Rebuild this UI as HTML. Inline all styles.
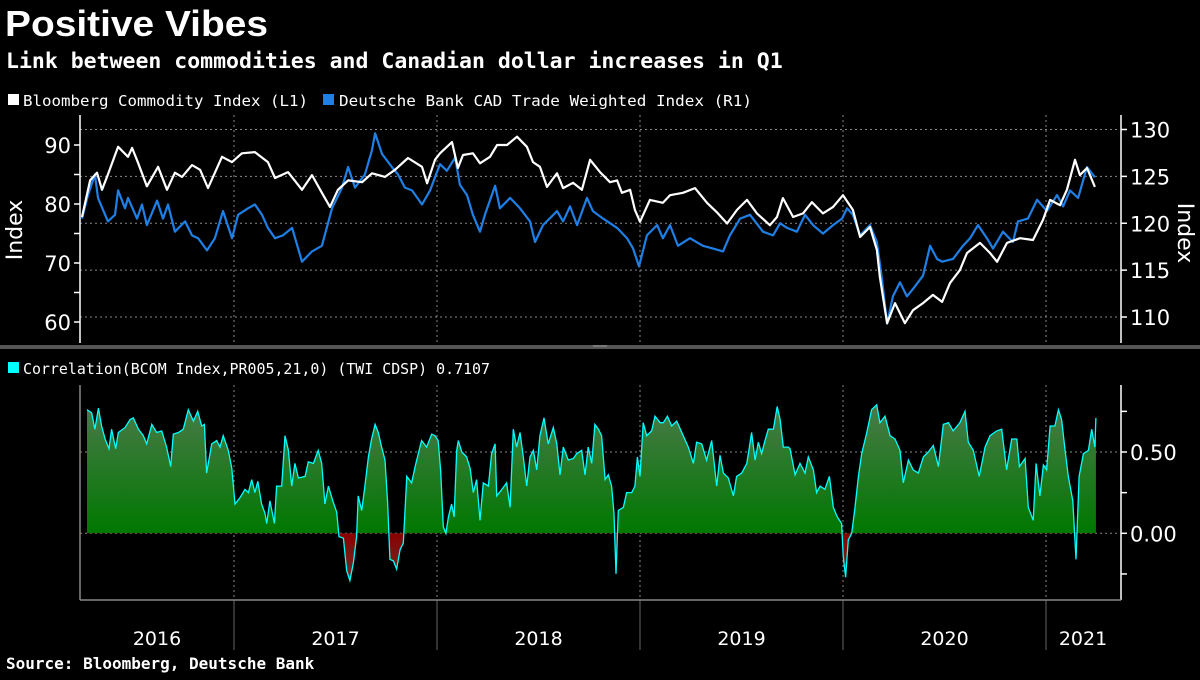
<!DOCTYPE html>
<html><head><meta charset="utf-8"><style>
html,body{margin:0;padding:0;background:#000;}
body{width:1200px;height:675px;overflow:hidden;font-family:"Liberation Sans",sans-serif;color:#fff;}
svg text{font-family:"DejaVu Sans","Liberation Sans",sans-serif;}
</style></head><body>
<svg id="chart" width="1200" height="675" viewBox="0 0 1200 675">
<defs>
<linearGradient id="gpos" x1="0" y1="385" x2="0" y2="533" gradientUnits="userSpaceOnUse">
<stop offset="0" stop-color="#557a55"/><stop offset="1" stop-color="#007800"/></linearGradient>
<linearGradient id="gneg" x1="0" y1="533" x2="0" y2="585" gradientUnits="userSpaceOnUse">
<stop offset="0" stop-color="#8a0000"/><stop offset="1" stop-color="#6a3030"/></linearGradient>
<clipPath id="cpos"><rect x="80" y="370" width="1040" height="163.3"/></clipPath>
<clipPath id="cneg"><rect x="80" y="533.3" width="1040" height="70"/></clipPath>
</defs>
<text x="5" y="36" font-size="36" font-weight="bold" fill="#fff" style="font-family:'Liberation Sans',sans-serif" textLength="263" lengthAdjust="spacingAndGlyphs">Positive Vibes</text>
<text x="6" y="68" font-size="21.5" font-weight="bold" fill="#fff" style="font-family:'DejaVu Sans Mono','Liberation Mono',monospace">Link between commodities and Canadian dollar increases in Q1</text>
<g>
<rect x="8" y="94" width="11" height="11" fill="#fff"/>
<text x="23" y="106" font-size="15.5" fill="#fff" style="font-family:'DejaVu Sans Mono',monospace" textLength="285" lengthAdjust="spacingAndGlyphs">Bloomberg Commodity Index (L1)</text>
<rect x="323" y="94" width="11" height="11" fill="#1e80e6"/>
<text x="339" y="106" font-size="15.5" fill="#fff" style="font-family:'DejaVu Sans Mono',monospace" textLength="413" lengthAdjust="spacingAndGlyphs">Deutsche Bank CAD Trade Weighted Index (R1)</text>
</g>
<g id="grid"></g>
<g id="axes"></g>
<g id="series"></g>
<rect x="0" y="345" width="1200" height="4" fill="#555"/>
<rect x="593" y="345.5" width="14" height="1" fill="#999"/>
<g>
<rect x="8" y="362" width="11" height="11" fill="#00ffff"/>
<text x="23" y="374" font-size="15.5" fill="#fff" style="font-family:'DejaVu Sans Mono',monospace" textLength="467" lengthAdjust="spacingAndGlyphs">Correlation(BCOM Index,PR005,21,0) (TWI CDSP) 0.7107</text>
</g>
<text x="6" y="669" font-size="16" font-weight="bold" fill="#fff" style="font-family:'DejaVu Sans Mono','Liberation Mono',monospace">Source: Bloomberg, Deutsche Bank</text>
</svg>
<script>
// ---- data (offsets are years since 2016-01-01) ----
const bcomTimes=[0.251,0.291,0.325,0.350,0.379,0.429,0.478,0.498,0.527,0.571,0.626,0.670,0.709,0.744,0.793,0.833,0.872,0.906,0.941,0.990,1.039,1.103,1.167,1.202,1.266,1.335,1.384,1.433,1.473,1.512,1.562,1.631,1.680,1.744,1.793,1.857,1.926,1.951,1.990,2.015,2.074,2.103,2.128,2.177,2.212,2.261,2.296,2.345,2.394,2.443,2.473,2.507,2.542,2.591,2.621,2.670,2.714,2.754,2.803,2.852,2.887,2.911,2.951,2.975,3.000,3.049,3.113,3.148,3.212,3.271,3.330,3.379,3.429,3.478,3.527,3.576,3.640,3.675,3.704,3.754,3.803,3.847,3.901,3.951,4.000,4.049,4.084,4.133,4.167,4.182,4.217,4.256,4.305,4.345,4.394,4.443,4.488,4.527,4.576,4.611,4.675,4.724,4.759,4.808,4.872,4.936,4.985,5.020,5.069,5.103,5.143,5.167,5.202,5.241];
const bcomValues=[77.8,84,85.3,82.4,85,89.7,88,89.5,87,83,86.3,82.4,85.3,84.6,86.6,85.8,82.7,85.3,88,87.1,88.6,88.8,87.1,84.4,85.4,82.4,84.9,81.9,79.5,82.4,84,83.7,85.2,84.6,85.8,87.8,86.3,83.5,87.5,88.6,90.5,86.1,88.3,88.6,86.9,88,90,90,91.4,89.7,87.1,86.3,82.9,85.2,82.7,83.6,82.4,87.5,85.4,83.7,84,81.9,82.4,79,77,80.7,80.2,81.5,81.9,82.7,80.2,78.6,76.7,79,80.7,78.4,76.4,77.8,81,77.8,78.4,80.3,78.4,79.5,81.5,79,74.4,76.1,72.2,67.6,59.8,63.2,59.8,62,63.2,64.6,63.4,66.6,68.8,71.7,73.4,71.7,70.2,73.4,74.2,73.9,77.3,80.7,79.8,82.4,87.5,84.9,86.1,82.9];
const cadTimes=[0.251,0.281,0.315,0.330,0.379,0.414,0.429,0.463,0.478,0.522,0.547,0.571,0.621,0.650,0.675,0.709,0.759,0.793,0.823,0.867,0.906,0.946,0.990,1.020,1.069,1.103,1.138,1.167,1.202,1.241,1.286,1.335,1.384,1.433,1.483,1.532,1.562,1.596,1.645,1.680,1.695,1.729,1.778,1.808,1.842,1.877,1.926,1.966,1.990,2.015,2.049,2.089,2.113,2.148,2.177,2.212,2.236,2.286,2.310,2.360,2.409,2.458,2.483,2.522,2.591,2.621,2.655,2.690,2.739,2.768,2.818,2.887,2.936,2.966,2.995,3.034,3.084,3.113,3.148,3.187,3.246,3.310,3.360,3.409,3.443,3.493,3.542,3.606,3.655,3.690,3.724,3.773,3.813,3.852,3.901,3.951,3.995,4.020,4.049,4.084,4.133,4.167,4.192,4.217,4.246,4.281,4.315,4.345,4.394,4.429,4.463,4.488,4.542,4.591,4.626,4.665,4.709,4.739,4.788,4.837,4.862,4.911,4.956,5.005,5.054,5.084,5.118,5.158,5.202,5.241];
const cadValues=[120.5,123,125.2,122.7,120.2,120.9,123.5,121.6,122.7,120.5,122,119.8,122.4,120.5,122,119.1,120.2,118.7,118.4,117.1,118.4,121.3,118.4,120.9,121.6,122,120.9,119.5,118.4,118.7,119.5,115.9,117,117.6,121.6,123.8,126,123.8,125.2,127.8,129.6,127.4,126,125.2,123.8,123.5,122,123.5,124.9,126.3,125.6,127,124.1,123,120.9,119.1,120.9,124,121.6,122.7,121.6,120.2,118,119.8,121.3,120.2,121.8,119.8,122.7,121.3,120.5,119.5,118.4,117.3,115.4,118.7,119.8,118.4,119.8,117.6,118.4,117.6,117.3,117,118.7,120.5,120.9,119.1,118.7,120,119.5,119.1,120.9,119.8,118.9,119.8,120.5,121.6,120.9,118.7,119.8,118,114,109.3,112.2,113.7,112.2,113,114.4,117.6,116.2,115.9,116.2,117.6,118.4,119.8,118.4,117.3,119.1,118,120.2,120.5,122.5,121.3,123,121.8,123.5,122.7,126,124.9];
const corrTimes=[0.276,0.299,0.315,0.332,0.348,0.365,0.384,0.397,0.417,0.430,0.463,0.488,0.504,0.529,0.553,0.570,0.595,0.619,0.644,0.668,0.688,0.701,0.726,0.750,0.775,0.800,0.821,0.841,0.854,0.865,0.882,0.890,0.915,0.931,0.947,0.972,0.989,1.005,1.030,1.054,1.071,1.087,1.103,1.117,1.136,1.153,1.161,1.177,1.199,1.210,1.235,1.251,1.268,1.284,1.300,1.317,1.350,1.366,1.391,1.415,1.432,1.448,1.465,1.489,1.506,1.517,1.539,1.555,1.571,1.588,1.604,1.612,1.629,1.645,1.662,1.678,1.695,1.711,1.727,1.744,1.757,1.768,1.785,1.801,1.818,1.834,1.851,1.875,1.892,1.908,1.924,1.949,1.974,1.990,2.006,2.018,2.031,2.044,2.056,2.072,2.084,2.097,2.105,2.122,2.146,2.163,2.179,2.195,2.212,2.228,2.253,2.269,2.286,2.294,2.319,2.343,2.360,2.376,2.392,2.409,2.425,2.442,2.458,2.475,2.491,2.507,2.527,2.548,2.573,2.590,2.606,2.622,2.647,2.672,2.688,2.713,2.729,2.745,2.762,2.778,2.795,2.811,2.828,2.844,2.860,2.872,2.882,2.893,2.918,2.934,2.959,2.975,2.987,3.000,3.016,3.033,3.057,3.074,3.099,3.115,3.135,3.156,3.181,3.213,3.238,3.263,3.279,3.304,3.328,3.353,3.378,3.394,3.411,3.435,3.460,3.476,3.501,3.526,3.539,3.550,3.567,3.583,3.599,3.616,3.632,3.657,3.676,3.690,3.706,3.731,3.739,3.764,3.788,3.813,3.829,3.854,3.870,3.887,3.911,3.933,3.952,3.972,3.993,4.001,4.013,4.026,4.043,4.059,4.076,4.092,4.117,4.141,4.166,4.182,4.207,4.232,4.256,4.281,4.297,4.322,4.346,4.371,4.396,4.420,4.445,4.470,4.494,4.519,4.543,4.576,4.601,4.617,4.642,4.671,4.700,4.724,4.757,4.782,4.806,4.831,4.856,4.869,4.897,4.913,4.937,4.951,4.970,4.987,5.003,5.020,5.044,5.061,5.077,5.094,5.110,5.132,5.148,5.163,5.184,5.209,5.225,5.241,5.246];
const corrValues=[0.76,0.74,0.64,0.77,0.66,0.58,0.52,0.64,0.52,0.62,0.65,0.70,0.71,0.64,0.60,0.55,0.67,0.62,0.63,0.53,0.41,0.61,0.62,0.64,0.76,0.69,0.75,0.66,0.67,0.37,0.49,0.55,0.57,0.53,0.60,0.51,0.40,0.18,0.22,0.27,0.25,0.33,0.25,0.32,0.18,0.12,0.06,0.20,0.06,0.29,0.29,0.60,0.51,0.29,0.43,0.34,0.35,0.44,0.43,0.51,0.43,0.18,0.29,0.19,0.13,-0.02,-0.03,-0.23,-0.29,-0.18,-0.02,0.23,0.14,0.29,0.47,0.58,0.67,0.62,0.53,0.45,0.18,-0.16,-0.17,-0.22,-0.10,-0.06,0.35,0.31,0.41,0.49,0.57,0.53,0.61,0.60,0.57,0.38,0.04,0.00,0.10,0.18,0.10,0.51,0.57,0.50,0.47,0.40,0.25,0.33,0.08,0.31,0.29,0.49,0.55,0.23,0.27,0.31,0.16,0.64,0.53,0.62,0.47,0.29,0.47,0.51,0.39,0.60,0.71,0.55,0.65,0.55,0.36,0.53,0.45,0.46,0.49,0.51,0.36,0.53,0.43,0.67,0.64,0.60,0.33,0.36,0.29,0.12,-0.25,0.14,0.16,0.25,0.25,0.29,0.47,0.35,0.68,0.60,0.63,0.72,0.68,0.68,0.72,0.66,0.69,0.60,0.53,0.43,0.56,0.55,0.45,0.57,0.29,0.48,0.37,0.34,0.23,0.35,0.37,0.43,0.53,0.62,0.45,0.56,0.49,0.57,0.64,0.64,0.78,0.70,0.53,0.53,0.52,0.36,0.43,0.37,0.47,0.39,0.25,0.29,0.27,0.35,0.16,0.10,0.06,-0.14,-0.27,-0.04,0.00,0.16,0.35,0.49,0.62,0.76,0.79,0.68,0.72,0.60,0.58,0.51,0.31,0.45,0.39,0.37,0.47,0.50,0.54,0.41,0.67,0.68,0.63,0.68,0.75,0.56,0.51,0.35,0.53,0.60,0.63,0.64,0.39,0.58,0.58,0.41,0.46,0.16,0.08,0.43,0.23,0.42,0.39,0.66,0.66,0.76,0.70,0.51,0.35,0.20,-0.16,0.35,0.49,0.51,0.64,0.53,0.71];
const yearLabels=["2016","2017","2018","2019","2020","2021"];
const leftTicks=[60,70,80,90];
const rightTicks=[110,115,120,125,130];
const corrTicks=["0.00","0.50"];

// ---- scales ----
const NS='http://www.w3.org/2000/svg';
const xScale=t=>31+t*203;               // t = years since 2016
const yLeft=v=>145+(90-v)*5.9;
const yRight=v=>129.5+(130-v)*9.375;
const yCorr=v=>533.3-v*162.6;
function mk(tag,attrs,parent,text){const e=document.createElementNS(NS,tag);for(const k in attrs)e.setAttribute(k,attrs[k]);if(text!==undefined)e.textContent=text;parent.appendChild(e);return e;}
const grid=document.getElementById('grid'),axes=document.getElementById('axes'),ser=document.getElementById('series');

for(let i=1;i<yearLabels.length;i++){
  const x=xScale(i);
  const a=mk('line',{x1:x,x2:x,y1:115,y2:343,stroke:'#888','stroke-width':1,'stroke-dasharray':'2,3'},grid);
  
  
  const b=mk('line',{x1:x,x2:x,y1:385,y2:600,stroke:'#888','stroke-width':1,'stroke-dasharray':'2,3'},grid);
  
  
  const c=mk('line',{x1:x,x2:x,y1:600,y2:650,stroke:'#666','stroke-width':1},grid);
  
  
}
rightTicks.forEach(v=>{
  const y=yRight(v);
  const g=mk('line',{x1:80,x2:1120,y1:y,y2:y,stroke:'#888','stroke-width':1,'stroke-dasharray':'2,3'},grid);
  
  
  const tk=mk('line',{x1:1121,x2:1127,y1:y,y2:y,stroke:'#fff','stroke-width':1.5},axes);
  
  
  const t=mk('text',{x:1130,y:y+8,'font-size':21,fill:'#fff'},axes,String(v));
  
  
});
corrTicks.forEach(s=>{
  const y=yCorr(parseFloat(s));
  const g=mk('line',{x1:80,x2:1120,y1:y,y2:y,stroke:'#888','stroke-width':1,'stroke-dasharray':'2,3'},grid);
  
  
  const t=mk('text',{x:1130,y:y+8,'font-size':21,fill:'#fff'},axes,s);
  
  
});
[-0.25,0.25,0.5,0,0.75].forEach(v=>{
  const y=yCorr(v);
  const tk=mk('line',{x1:1121,x2:1127,y1:y,y2:y,stroke:'#fff','stroke-width':1.5},axes);
  
  
});
for(let v=60;v<=90;v+=5){
  const y=yLeft(v);
  const tk=mk('line',{x1:74,x2:80,y1:y,y2:y,stroke:'#fff','stroke-width':1.5},axes);
  
  
}
leftTicks.forEach(v=>{
  const t=mk('text',{x:71,y:yLeft(v)+8,'font-size':21,fill:'#fff','text-anchor':'end'},axes,String(v));
  
  
});
[[80,115,80,343,'#fff','left-axis'],[1121,115,1121,343,'#fff','right-axis'],[80,385,80,600,'#888','corr-left-axis'],[1121,385,1121,600,'#fff','corr-right-axis'],[80,600,1121,600,'#888','x-axis']].forEach(a=>{
  const l=mk('line',{x1:a[0],y1:a[1],x2:a[2],y2:a[3],stroke:a[4],'stroke-width':1.5},axes);
  
  
});
yearLabels.forEach((s,i)=>{
  const x0=Math.max(80,xScale(i)),x1=Math.min(1120,xScale(i+1));
  const t=mk('text',{x:(x0+x1)/2,y:645,'font-size':19,fill:'#fff','text-anchor':'middle'},axes,s);
  
  
});
const lt=mk('text',{x:0,y:0,'font-size':22,fill:'#fff','text-anchor':'middle',transform:'translate(22,230) rotate(-90)'},axes,'Index');


const rt=mk('text',{x:0,y:0,'font-size':22,fill:'#fff','text-anchor':'middle',transform:'translate(1178,233) rotate(90)'},axes,'Index');



const cpts=corrTimes.map((t,i)=>[xScale(t),yCorr(corrValues[i])]);
const z=yCorr(0);
let ad='M'+cpts[0][0]+','+z+' '+cpts.map(p=>'L'+p[0].toFixed(1)+','+p[1].toFixed(1)).join(' ')+' L'+cpts[cpts.length-1][0]+','+z+'Z';
const ap=mk('path',{d:ad,fill:'url(#gpos)','clip-path':'url(#cpos)'},ser);


const an=mk('path',{d:ad,fill:'url(#gneg)','clip-path':'url(#cneg)'},ser);


const cl=mk('path',{d:'M'+cpts.map(p=>p[0].toFixed(1)+','+p[1].toFixed(1)).join(' L'),fill:'none',stroke:'#00ffff','stroke-width':1.3},ser);



const cadPath=mk('path',{d:'M'+cadTimes.map((t,i)=>xScale(t).toFixed(1)+','+yRight(cadValues[i]).toFixed(1)).join(' L'),fill:'none',stroke:'#1e80e6','stroke-width':2.2,'stroke-linejoin':'round'},ser);


const bPath=mk('path',{d:'M'+bcomTimes.map((t,i)=>xScale(t).toFixed(1)+','+yLeft(bcomValues[i]).toFixed(1)).join(' L'),fill:'none',stroke:'#fff','stroke-width':2.2,'stroke-linejoin':'round'},ser);


</script>
</body></html>
